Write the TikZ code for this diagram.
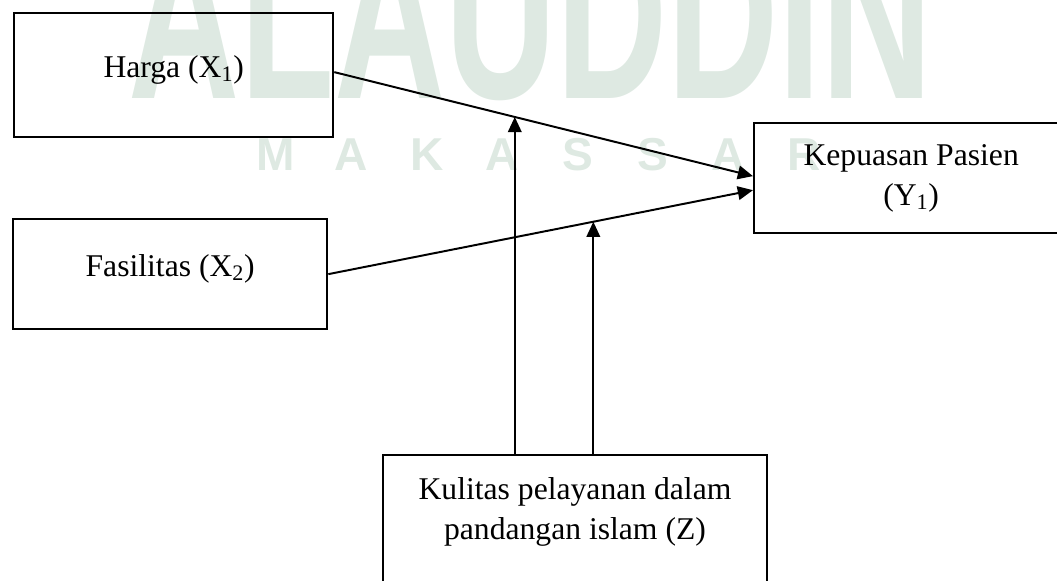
\documentclass[tikz,border=0pt]{standalone}
\usepackage{fontspec}
\setmainfont{Liberation Serif}
\newfontfamily\wmfont{Liberation Sans}
\usepackage{graphicx}
\usetikzlibrary{arrows.meta}
\definecolor{wmgreen}{RGB}{222,233,226}

\begin{document}
\begin{tikzpicture}[x=0.025cm,y=-0.025cm,
  box/.style={draw,line width=1.6pt,inner xsep=0pt,align=center,
    font=\fontsize{22.5}{28.5}\selectfont},
  arr/.style={line width=1.4pt,-{Triangle[length=0.38cm,width=0.34cm]}},
  wm/.style={text=wmgreen,inner sep=0pt,anchor=base}]
\useasboundingbox (0,0) rectangle (1057,580);
% watermark behind
\node[wm,font=\wmfont\bfseries\fontsize{149}{149}\selectfont] (wmtop) at (531,98) {\scalebox{0.735}[1.15]{ALAUDDIN}};
\foreach \c [count=\i] in {M,A,K,A,S,S,A,R}
  \node[wm,font=\wmfont\bfseries\fontsize{32.8}{33}\selectfont] (wm\i) at ({276+75.4*(\i-1)},170) {\c};
% boxes
\node[box,anchor=north west,minimum width=7.975cm,inner ysep=0pt,text height=1.6cm,text depth=1.5cm] (harga) at (13,12) {Harga (X\textsubscript{1})};
\node[box,anchor=north west,minimum width=7.85cm,inner ysep=0pt,text height=1.425cm,text depth=1.325cm] (fas) at (12,218) {Fasilitas (X\textsubscript{2})};
\node[box,anchor=north west,minimum width=7.85cm,minimum height=2.75cm] (puas) at (753,122) {Kepuasan Pasien\\(Y\textsubscript{1})};
\node[box,anchor=north,minimum width=9.6cm,inner ysep=0.55cm,text depth=4cm] (mutu) at (575,454) {Kulitas pelayanan dalam\\pandangan islam (Z)};
% arrows
\draw[arr] ([yshift=0.075cm]harga.east) -- coordinate[pos=0.431] (m1) ([yshift=0.05cm]puas.west);
\draw[arr] (fas.east) -- coordinate[pos=0.624] (m2) ([yshift=-0.3cm]puas.west);
\draw[arr] (m1 |- mutu.north) -- (m1);
\draw[arr] (m2 |- mutu.north) -- (m2);
\end{tikzpicture}
\end{document}
